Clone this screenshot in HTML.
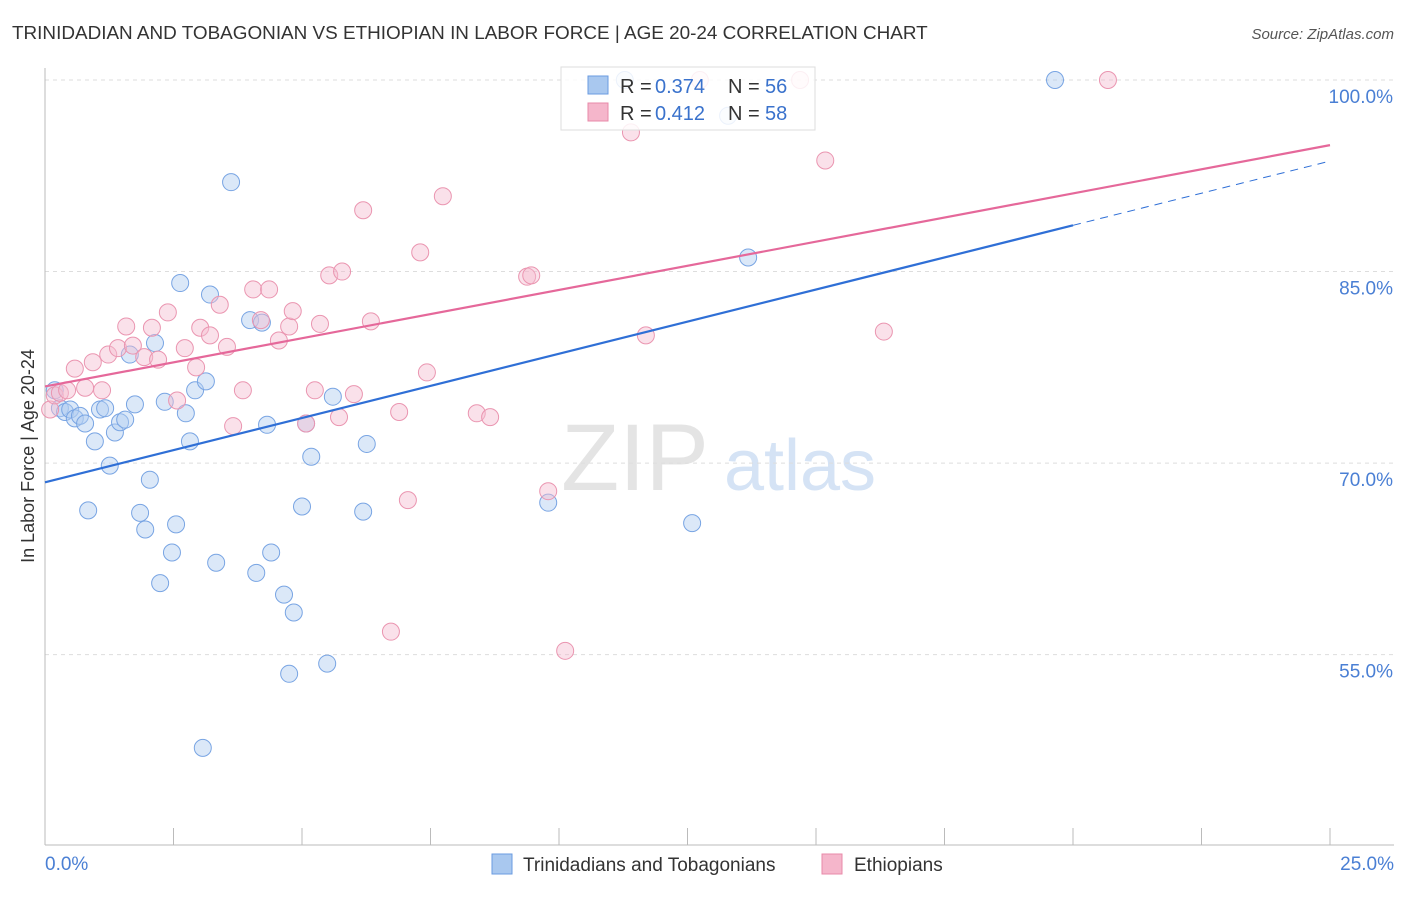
<!DOCTYPE html>
<html><head><meta charset="utf-8"><style>
body{margin:0;background:#fff;font-family:"Liberation Sans",sans-serif;}
svg text{font-family:"Liberation Sans",sans-serif;}
</style></head><body>
<svg id="chart" width="1406" height="892" xmlns="http://www.w3.org/2000/svg">
<text x="12" y="39" font-size="18.9" fill="#333">TRINIDADIAN AND TOBAGONIAN VS ETHIOPIAN IN LABOR FORCE | AGE 20-24 CORRELATION CHART</text>
<text x="1394" y="39" font-size="15" fill="#555" text-anchor="end" font-style="italic">Source: ZipAtlas.com</text>
<text transform="translate(34,456) rotate(-90)" font-size="18" fill="#333" text-anchor="middle">In Labor Force | Age 20-24</text>
<g>
<text x="635" y="490" font-size="95" fill="#e4e4e4" text-anchor="middle" font-family="Liberation Serif">ZIP</text>
<text x="800" y="490" font-size="72" fill="#d5e3f5" text-anchor="middle">atlas</text>
</g>
<g id="grid"></g><g id="axes"></g>
<g id="pts" opacity="0.9"></g><g id="lines"></g>
<g>
<rect x="561" y="67" width="254" height="63" fill="#fff" fill-opacity="0.85" stroke="#ddd"/>
<rect x="588" y="76" width="20" height="18" fill="#a9c8ef" stroke="#6a9be0"/>
<text x="620" y="93" font-size="20" fill="#333">R =</text>
<text x="655" y="93" font-size="20" fill="#3a72cc">0.374</text>
<text x="728" y="93" font-size="20" fill="#333">N =</text>
<text x="765" y="93" font-size="20" fill="#3a72cc">56</text>
<rect x="588" y="103" width="20" height="18" fill="#f5b6cb" stroke="#e88aa8"/>
<text x="620" y="120" font-size="20" fill="#333">R =</text>
<text x="655" y="120" font-size="20" fill="#3a72cc">0.412</text>
<text x="728" y="120" font-size="20" fill="#333">N =</text>
<text x="765" y="120" font-size="20" fill="#3a72cc">58</text>
</g>
<g>
<rect x="492" y="854" width="20" height="20" fill="#a9c8ef" stroke="#6a9be0"/>
<text x="523" y="871" font-size="19" fill="#333">Trinidadians and Tobagonians</text>
<rect x="822" y="854" width="20" height="20" fill="#f5b6cb" stroke="#e88aa8"/>
<text x="854" y="871" font-size="19" fill="#333">Ethiopians</text>
</g>
</svg>
<script>
const blueX=[0.19,0.29,0.39,0.49,0.58,0.68,0.78,0.97,1.07,1.17,1.26,0.84,1.36,1.46,1.56,1.65,1.75,1.85,1.95,2.04,2.14,2.24,2.33,2.47,2.55,2.63,2.74,2.82,2.92,3.07,3.13,3.21,3.33,3.62,3.99,4.11,4.22,4.32,4.40,4.65,4.75,4.84,5.00,5.08,5.18,5.49,5.60,6.19,6.26,9.79,12.59,13.68,19.65,13.29,11.28];
const blueY=[75.7,74.3,74.0,74.2,73.5,73.7,73.1,71.7,74.2,74.3,69.8,66.3,72.4,73.2,73.4,78.5,74.6,66.1,64.8,68.7,79.4,60.6,74.8,63.0,65.2,84.1,73.9,71.7,75.7,47.7,76.4,83.2,62.2,92.0,81.2,61.4,81.0,73.0,63.0,59.7,53.5,58.3,66.6,73.1,70.5,54.3,75.2,66.2,71.5,66.9,65.3,86.1,100.0,97.2,100.0];
const pinkX=[0.10,0.19,0.29,0.43,0.58,0.78,0.93,1.11,1.23,1.42,1.58,1.71,1.93,2.08,2.20,2.39,2.57,2.72,2.94,3.02,3.21,3.40,3.54,3.66,3.85,4.05,4.20,4.36,4.55,4.75,4.82,5.08,5.25,5.35,5.53,5.72,5.78,6.01,6.19,6.34,6.73,6.89,7.06,7.30,7.43,7.74,8.40,8.66,9.38,9.46,9.79,10.12,11.40,11.69,12.74,14.69,15.18,16.32,20.68];
const pinkY=[74.2,75.3,75.5,75.7,77.4,75.9,77.9,75.7,78.5,79.0,80.7,79.2,78.3,80.6,78.1,81.8,74.9,79.0,77.5,80.6,80.0,82.4,79.1,72.9,75.7,83.6,81.2,83.6,79.6,80.7,81.9,73.1,75.7,80.9,84.7,73.6,85.0,75.4,89.8,81.1,56.8,74.0,67.1,86.5,77.1,90.9,73.9,73.6,84.6,84.7,67.8,55.3,95.9,80.0,100.0,100.0,93.7,80.3,100.0];
const yTicks=[100,85,70,55];
const yTickLabels=["100.0%","85.0%","70.0%","55.0%"];
const xTicks=[0,2.5,5,7.5,10,12.5,15,17.5,20,22.5,25];
const blueFit=[68.5,1.006];
const pinkFit=[76.0,0.756];
const X=v=>45+v*51.4, Y=v=>80+(100-v)*12.77;
const NS="http://www.w3.org/2000/svg";
function mk(p,t,a){const e=document.createElementNS(NS,t);for(const k in a)e.setAttribute(k,a[k]);p.appendChild(e);return e;}
const grid=document.getElementById('grid'),axes=document.getElementById('axes');
yTicks.forEach((v,i)=>{
 const l=mk(grid,'line',{x1:45,x2:1394,y1:Y(v),y2:Y(v),stroke:'#ddd','stroke-dasharray':'4,4'});
 
 
 const t=mk(axes,'text',{x:1393,y:Y(v)+23,'font-size':19,fill:'#4a7fd4','text-anchor':'end'});
 t.textContent=yTickLabels[i];
 
 
});
const ax=mk(axes,'line',{x1:45,x2:1394,y1:845,y2:845,stroke:'#bbb'});


const ay=mk(axes,'line',{x1:45,x2:45,y1:68,y2:845,stroke:'#bbb'});


xTicks.forEach(v=>{
 const l=mk(axes,'line',{x1:X(v),x2:X(v),y1:828,y2:845,stroke:'#bbb'});
 
 
});
[["0.0%",45,"start"],["25.0%",1394,"end"]].forEach(a=>{
 const t=mk(axes,'text',{x:a[1],y:870,'font-size':19,fill:'#4a7fd4','text-anchor':a[2]});
 t.textContent=a[0];
 
 
});
const pts=document.getElementById('pts');
function dots(xs,ys,fill,stroke,name){xs.forEach((x,i)=>{
 const c=mk(pts,'circle',{cx:X(x),cy:Y(ys[i]),r:8.5,fill:fill,'fill-opacity':0.45,stroke:stroke,'stroke-width':1});
 
 
});}
dots(blueX,blueY,'#a9c8ef','#6a9be0','trinidadian-point');
dots(pinkX,pinkY,'#f5b6cb','#e88aa8','ethiopian-point');
const lines=document.getElementById('lines');
const f=(fit,x)=>fit[0]+fit[1]*x;
const b1=mk(lines,'line',{x1:X(0),y1:Y(f(blueFit,0)),x2:X(20),y2:Y(f(blueFit,20)),stroke:'#2f6fd6','stroke-width':2.2});


const b2=mk(lines,'line',{x1:X(20),y1:Y(f(blueFit,20)),x2:X(25),y2:Y(f(blueFit,25)),stroke:'#2f6fd6','stroke-width':1,'stroke-dasharray':'8,6'});


const p1=mk(lines,'line',{x1:X(0),y1:Y(f(pinkFit,0)),x2:X(25),y2:Y(f(pinkFit,25)),stroke:'#e5689a','stroke-width':2.2});


</script>
</body></html>
